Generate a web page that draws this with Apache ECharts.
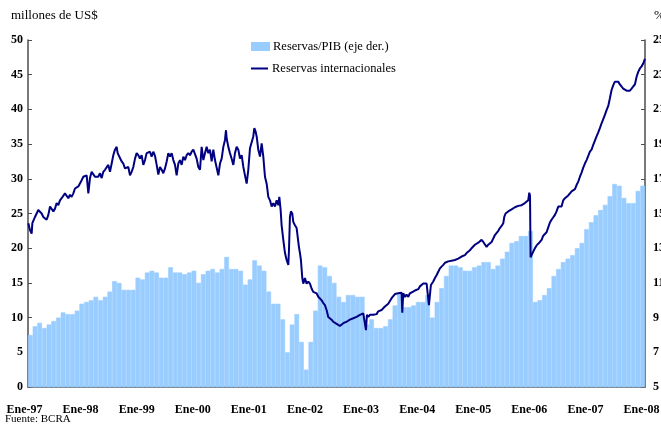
<!DOCTYPE html>
<html>
<head>
<meta charset="utf-8">
<script src="https://cdn.jsdelivr.net/npm/echarts@6/dist/echarts.min.js"></script>
<style>
  html, body { margin: 0; padding: 0; background: #fff; }
  #chart { width: 661px; height: 429px; }
</style>
</head>
<body>
<div id="chart"></div>
<script>
// etiquetas del eje x (enero de cada año)
const anios = ['97', '98', '99', '00', '01', '02', '03', '04', '05', '06', '07', '08'];

// Reservas/PIB (%), un valor por mes, ene-97 a dic-07
const reservasPIB = [
  8.0, 8.5, 8.7, 8.4, 8.6, 8.8, 9.0, 9.3, 9.2, 9.2, 9.4, 9.8,
  9.9, 10.0, 10.2, 10.0, 10.2, 10.5, 11.1, 11.0, 10.6, 10.6, 10.6, 11.3,
  11.2, 11.6, 11.7, 11.6, 11.3, 11.3, 11.9, 11.6, 11.6, 11.5, 11.6, 11.7,
  11.0, 11.5, 11.7, 11.8, 11.6, 11.8, 12.5, 11.8, 11.8, 11.7, 10.9, 11.2,
  12.3, 12.0, 11.7, 10.5, 9.8, 9.8, 8.9, 7.0, 8.6, 9.2, 7.6, 6.0,
  7.6, 9.4, 12.0, 11.9, 11.4, 11.0, 10.2, 9.9, 10.3, 10.3, 10.2, 10.2,
  8.6, 8.9, 8.4, 8.4, 8.5, 8.9, 9.7, 10.4, 9.6, 9.6, 9.7, 9.9,
  9.9, 10.3, 9.0, 9.9, 10.7, 11.4, 12.0, 12.0, 11.9, 11.7, 11.7, 11.9,
  12.0, 12.2, 12.2, 11.8, 12.0, 12.4, 12.8, 13.3, 13.4, 13.7, 13.7, 14.0,
  9.9, 10.0, 10.3, 10.7, 11.4, 11.8, 12.2, 12.4, 12.6, 13.0, 13.3, 14.1,
  14.5, 14.9, 15.2, 15.5, 16.0, 16.7, 16.6, 15.9, 15.6, 15.6, 16.3, 16.6
];

// Reservas internacionales (miles de millones de US$): meses desde ene-97 y valor
const resMes = [
  0.07, 0.43, 0.78, 0.93, 1.5, 2.2, 2.57, 2.92, 3.28, 3.64, 3.99, 4.35, 4.71, 5.06, 5.42, 5.78,
  6.13, 6.49, 6.84, 7.2, 7.56, 7.91, 8.27, 8.63, 8.98, 9.34, 9.7, 10.05, 10.41, 10.77, 11.12, 11.48,
  11.84, 12.19, 12.55, 12.91, 13.26, 13.62, 13.98, 14.33, 14.69, 15.04, 15.4, 15.76, 16.11, 16.47, 16.83, 17.18,
  17.54, 17.9, 18.25, 18.61, 18.97, 19.18, 19.68, 20.04, 20.39, 20.75, 21.11, 21.46, 21.82, 22.17, 22.53, 22.89,
  23.24, 23.6, 23.96, 24.31, 24.67, 25.03, 25.38, 25.74, 26.1, 26.45, 26.81, 27.17, 27.53, 27.88,
  28.24, 28.6, 28.95, 29.31, 29.67, 30.02, 30.38, 30.74, 31.09, 31.45, 31.8, 32.16, 32.52, 32.87, 33.23, 33.59,
  33.94, 34.3, 34.66, 35.01, 35.37, 35.73, 36.08, 36.44, 36.8, 37.15, 37.51, 37.87, 38.22, 38.58, 38.93, 39.29,
  39.65, 40.0, 40.36, 40.72, 41.07, 41.43, 41.79, 42.14, 42.36, 42.5, 42.86, 43.21, 43.57, 43.93, 44.28, 44.64,
  45.0, 45.35, 45.71, 46.07, 46.42, 46.78, 47.13, 47.49, 47.85, 48.2, 48.42, 48.7, 48.92, 49.27, 49.63, 49.99,
  50.34, 50.7, 51.06, 51.41, 51.77, 52.13, 52.48, 52.84, 53.2, 53.55, 53.77, 54.05, 54.26, 54.62, 54.98, 55.33,
  55.69, 55.83, 56.04, 56.25, 56.54, 56.75, 57.11, 57.47, 57.68, 57.96, 58.18, 58.39, 58.68, 58.89, 59.25, 59.6,
  59.96, 60.32, 60.67, 61.03, 61.39, 61.74, 62.1, 62.46, 62.81, 63.17, 63.53, 63.88, 64.24, 64.6, 64.95, 65.31,
  65.67, 66.02, 66.38, 66.73, 67.09, 67.45, 67.8, 68.16, 68.52, 68.87, 69.23, 69.59, 69.94, 70.3, 70.66, 71.01,
  71.37, 71.73, 72.08, 72.3, 72.51, 72.8, 73.15, 73.51, 73.86, 74.22, 74.58, 74.93, 75.29, 75.65, 76.0, 76.36,
  76.72, 77.07, 77.43, 77.79, 78.14, 78.5, 78.86, 79.21, 79.57, 79.93, 80.07, 80.28, 80.64, 80.99, 81.35, 81.71,
  82.06, 82.78, 83.49, 83.85, 84.21, 84.56, 84.92, 85.28, 85.63, 85.77, 85.99, 86.2, 86.49, 86.7, 87.06, 87.41,
  87.77, 88.13, 88.48, 88.84, 89.2, 89.55, 89.91, 90.27, 90.62, 90.98, 91.34, 91.69, 92.05, 92.41, 92.76, 93.12,
  93.48, 93.83, 94.19, 94.54, 94.9, 95.26, 95.61, 95.97, 96.33, 96.68, 97.04, 97.4, 97.75, 98.11, 98.47, 98.82,
  99.18, 99.54, 99.89, 100.25, 100.61, 100.96, 101.32, 101.68, 101.89, 102.17, 102.39, 102.74, 103.1, 103.46, 103.81, 104.17,
  104.53, 104.88, 105.24, 105.6, 105.95, 106.31, 106.67, 107.02, 107.24, 107.4, 107.52, 107.8, 108.09, 108.45, 108.81, 109.16,
  109.52, 109.88, 110.23, 110.59, 110.95, 111.3, 111.66, 112.01, 112.37, 112.73, 113.08, 113.44, 113.8, 114.15, 114.51, 114.87,
  115.22, 115.58, 115.94, 116.29, 116.65, 117.01, 117.36, 117.72, 118.08, 118.43, 118.79, 119.14, 119.5, 119.86, 120.21, 120.57,
  120.93, 121.28, 121.64, 122.0, 122.35, 122.71, 123.07, 123.42, 123.78, 124.14, 124.49, 124.85, 125.21, 125.56, 125.92, 126.27,
  126.63, 126.99, 127.34, 127.7, 128.06, 128.41, 128.77, 129.13, 129.48, 129.84, 130.2, 130.55, 130.91, 131.27, 131.62, 131.98
];
const resValor = [
  23.6, 22.6, 22.1, 23.6, 24.5, 25.5, 25.7, 25.0, 24.5, 24.3, 24.1, 24.8, 26.0, 26.1, 25.3, 25.7,
  26.5, 26.2, 26.9, 27.2, 27.4, 27.9, 28.1, 27.2, 27.7, 27.4, 27.9, 28.6, 28.4, 28.9, 29.1, 29.8,
  30.3, 30.1, 30.5, 27.9, 30.1, 31.0, 31.0, 30.3, 30.5, 30.3, 30.8, 30.1, 31.0, 31.3, 31.5, 32.0,
  31.0, 32.2, 33.4, 34.2, 34.6, 33.7, 33.0, 32.5, 32.2, 31.5, 31.3, 31.7, 30.5, 31.0, 31.7, 32.9,
  33.7, 33.4, 32.9, 33.4, 32.0, 32.7, 33.7, 33.9, 33.9, 33.2, 33.9, 33.3, 32.0, 30.6,
  31.7, 31.3, 30.8, 31.5, 32.5, 33.7, 33.2, 33.7, 32.7, 32.0, 30.5, 32.2, 32.7, 32.0, 33.2, 32.7,
  33.4, 33.7, 33.4, 33.9, 34.2, 34.4, 32.9, 31.7, 31.3, 34.6, 32.7, 33.7, 34.6, 33.7, 34.2, 32.5,
  34.2, 32.7, 32.5, 30.5, 32.2, 32.9, 34.6, 35.6, 37.0, 35.8, 34.6, 33.7, 32.9, 32.0, 33.7, 34.6,
  34.2, 32.9, 33.4, 31.7, 30.5, 29.3, 31.3, 34.4, 34.6, 36.1, 37.3, 36.8, 36.1, 34.2, 33.2, 35.1,
  33.2, 30.3, 29.3, 27.4, 26.9, 26.0, 26.5, 26.0, 26.9, 26.2, 27.4, 25.5, 23.3, 21.2, 19.3, 18.3,
  17.6, 19.7, 24.5, 25.3, 25.0, 23.8, 23.3, 22.9, 22.9, 20.2, 19.3, 18.3, 15.7, 14.9, 15.7, 14.9,
  15.2, 14.9, 14.2, 13.7, 13.6, 13.5, 13.0, 13.0, 12.5, 12.1, 11.8, 11.1, 10.1, 9.9, 9.7, 9.4,
  9.2, 9.1, 8.9, 8.8, 8.9, 9.2, 9.3, 9.4, 9.6, 9.7, 9.8, 9.9, 10.1, 10.1, 10.2, 10.4,
  10.5, 10.6, 10.8, 8.2, 10.4, 10.1, 10.4, 10.3, 10.4, 10.6, 10.5, 10.9, 10.7, 11.1, 11.3, 11.6,
  11.8, 12.0, 12.1, 12.8, 13.0, 13.4, 13.3, 13.5, 13.5, 13.6, 10.7, 13.5, 13.0, 13.3, 13.0, 13.5,
  13.6, 13.9, 14.1, 14.5, 14.7, 14.9, 15.0, 14.9, 14.9, 11.8, 11.8, 14.7, 14.9, 15.2, 15.7, 16.1,
  16.6, 17.1, 17.3, 17.6, 17.9, 18.1, 18.1, 18.0, 18.2, 18.2, 18.3, 18.3, 18.5, 18.6, 18.8, 18.9,
  19.0, 19.3, 19.5, 19.7, 20.0, 20.2, 20.5, 20.7, 20.8, 20.9, 21.2, 20.9, 21.1, 20.2, 20.5, 20.7,
  20.9, 21.4, 21.9, 22.1, 22.5, 22.9, 23.2, 23.6, 24.5, 25.0, 24.8, 25.3, 25.4, 25.6, 25.5, 25.9,
  26.0, 26.1, 26.2, 26.2, 26.4, 26.5, 26.7, 26.9, 28.0, 27.6, 18.7, 18.9, 19.5, 20.0, 20.4, 20.3,
  20.9, 21.2, 21.8, 21.6, 22.3, 23.0, 23.7, 24.1, 24.3, 24.8, 25.3, 26.0, 26.1, 26.0, 26.9, 27.2,
  27.3, 27.6, 27.9, 28.2, 28.2, 28.5, 29.1, 29.6, 30.3, 30.9, 31.6, 32.2, 32.7, 33.3, 33.9, 34.2,
  34.9, 35.5, 36.1, 36.7, 37.3, 38.0, 38.6, 39.2, 39.9, 40.5, 41.6, 42.8, 43.5, 44.0, 44.2, 44.0,
  43.6, 43.3, 43.0, 42.8, 42.7, 42.6, 42.7, 43.0, 43.3, 43.6, 44.7, 45.4, 45.9, 46.2, 46.6, 47.3
];

const meses = reservasPIB.map((v, i) => 'm' + i);
const reservasLinea = resMes.map((m, i) => [m, resValor[i]]);

const fuente = '"Liberation Serif", "DejaVu Serif", serif';
const gris = '#4d4d4d';
const celeste = '#99ccff';

const chart = echarts.init(document.getElementById('chart'), null, { renderer: 'canvas' });

chart.setOption({
  animation: false,
  textStyle: { fontFamily: fuente, color: '#000' },
  grid: { left: 28, right: 16, top: 40, bottom: 42, containLabel: false, outerBoundsMode: 'none' },
  legend: [
    {
      left: 251, top: 40, padding: 0, itemWidth: 17, itemHeight: 7, orient: 'vertical',
      data: [{ name: 'Reservas/PIB (eje der.)', icon: 'rect' }],
      textStyle: { fontFamily: fuente, fontSize: 12.5, color: '#000', padding: [0, 0, 0, -1] }
    },
    {
      left: 251, top: 62, padding: 0, itemWidth: 17, itemHeight: 2, orient: 'vertical',
      data: [{ name: 'Reservas internacionales', icon: 'rect' }],
      textStyle: { fontFamily: fuente, fontSize: 12.5, color: '#000', padding: [0, 0, 0, -1] }
    }
  ],
  xAxis: [
    {
      type: 'category', data: meses, show: false,
      boundaryGap: true
    },
    {
      type: 'value', min: 0, max: 132, interval: 12, position: 'bottom',
      axisLine: { show: true, lineStyle: { color: gris, width: 1.5 } },
      axisTick: { show: false },
      splitLine: { show: false },
      axisLabel: {
        margin: 17, fontSize: 12, fontWeight: 'bold', fontFamily: fuente, color: '#000',
        padding: [0, 7, 0, 0],
        formatter: v => 'Ene-' + anios[v / 12]
      }
    }
  ],
  yAxis: [
    {
      type: 'value', min: 0, max: 50, interval: 5,
      axisLine: { show: true, lineStyle: { color: gris, width: 1.5 } },
      axisTick: { show: true, inside: true, length: 4, lineStyle: { color: gris } },
      splitLine: { show: false },
      axisLabel: { margin: 5, fontSize: 12, fontWeight: 'bold', fontFamily: fuente, color: '#000' }
    },
    {
      type: 'value', min: 5, max: 25, interval: 2, position: 'right',
      axisLine: { show: true, lineStyle: { color: gris, width: 1.5 } },
      axisTick: { show: true, inside: true, length: 4, lineStyle: { color: gris } },
      splitLine: { show: false },
      axisLabel: { margin: 8, fontSize: 12, fontWeight: 'bold', fontFamily: fuente, color: '#000' }
    }
  ],
  series: [
    {
      name: 'Reservas/PIB (eje der.)',
      type: 'bar',
      xAxisIndex: 0, yAxisIndex: 1,
      data: reservasPIB,
      barCategoryGap: '0%',
      itemStyle: { color: celeste, borderColor: celeste, borderWidth: 0.6 }
    },
    {
      name: 'Reservas internacionales',
      type: 'line',
      xAxisIndex: 1, yAxisIndex: 0,
      data: reservasLinea,
      showSymbol: false,
      symbol: 'none',
      lineStyle: { color: '#000080', width: 2 },
      itemStyle: { color: '#000080' },
      z: 5
    }
  ],
  graphic: [
    { type: 'text', left: 11, top: 9, style: { text: 'millones de US$', font: '13px ' + fuente, fill: '#000' } },
    { type: 'text', left: 654, top: 9, style: { text: '%', font: '13px ' + fuente, fill: '#000' } },
    { type: 'text', left: 5, top: 414, style: { text: 'Fuente: BCRA', font: '11px ' + fuente, fill: '#000' } }
  ]
});
</script>
</body>
</html>
